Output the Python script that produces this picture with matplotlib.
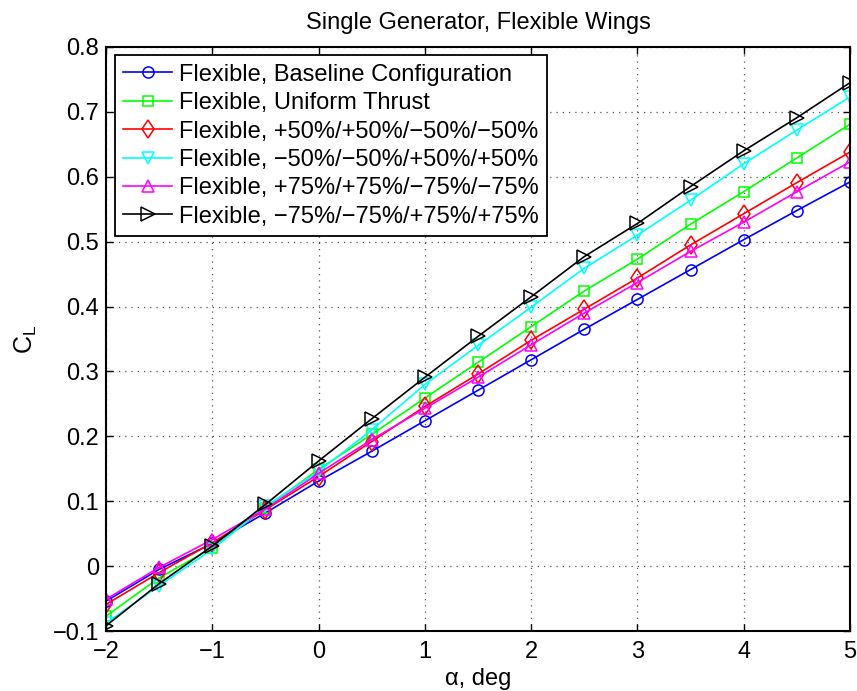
import numpy as np
import matplotlib
matplotlib.use("Agg")
import matplotlib.pyplot as plt

plt.rcParams['font.family'] = ['Liberation Sans', 'DejaVu Sans']
plt.rcParams['mathtext.fontset'] = 'custom'
plt.rcParams['mathtext.rm'] = 'Liberation Sans'

alpha = [-2, -1.5, -1, -0.5, 0, 0.5, 1, 1.5, 2, 2.5, 3, 3.5, 4, 4.5, 5]

cl_baseline = [-0.054, -0.005, 0.035, 0.082, 0.131, 0.177, 0.224, 0.271, 0.318,
               0.365, 0.411, 0.457, 0.503, 0.548, 0.592]
cl_uniform = [-0.077, -0.018, 0.028, 0.090, 0.149, 0.203, 0.259, 0.314, 0.369,
              0.424, 0.473, 0.527, 0.577, 0.629, 0.681]
cl_p50 = [-0.059, -0.010, 0.036, 0.087, 0.138, 0.192, 0.246, 0.296, 0.348,
          0.396, 0.444, 0.495, 0.543, 0.591, 0.638]
cl_m50 = [-0.088, -0.030, 0.026, 0.092, 0.146, 0.210, 0.280, 0.340, 0.399,
          0.459, 0.510, 0.564, 0.620, 0.672, 0.723]
cl_p75 = [-0.051, -0.002, 0.041, 0.088, 0.143, 0.195, 0.243, 0.291, 0.341,
          0.390, 0.437, 0.485, 0.530, 0.577, 0.623]
cl_m75 = [-0.092, -0.027, 0.031, 0.095, 0.162, 0.227, 0.291, 0.354, 0.415,
          0.477, 0.528, 0.585, 0.640, 0.691, 0.745]

labels = ['Flexible, Baseline Configuration',
          'Flexible, Uniform Thrust',
          'Flexible, +50%/+50%/\u221250%/\u221250%',
          'Flexible, \u221250%/\u221250%/+50%/+50%',
          'Flexible, +75%/+75%/\u221275%/\u221275%',
          'Flexible, \u221275%/\u221275%/+75%/+75%']

series = [cl_baseline, cl_uniform, cl_p50, cl_m50, cl_p75, cl_m75]
colors = ['#0000ff', '#00ff00', '#ff0000', '#00ffff', '#ff00ff', '#000000']
markers = ['o', 's', 'd', 'v', '^', '>']
msizes = [8, 7, 9.5, 9, 9, 9.5]

fig = plt.figure(figsize=(8.57, 6.91), dpi=100)
ax = fig.add_axes([0.1237, 0.0868, 0.8681, 0.8452])

for y, c, m, ms, lab in zip(series, colors, markers, msizes, labels):
    ax.plot(alpha, y, color=c, marker=m, markersize=ms, markerfacecolor='none',
            markeredgecolor=c, markeredgewidth=1.1, linewidth=1.2, label=lab)

ax.set_xlim(-2, 5)
ax.set_ylim(-0.1, 0.8)
ax.set_xticks(np.arange(-2, 6, 1))
ax.set_yticks(np.arange(-0.1, 0.81, 0.1))
ax.set_yticklabels(['\u22120.1', '0', '0.1', '0.2', '0.3', '0.4', '0.5', '0.6', '0.7', '0.8'])
ax.set_xticklabels(['\u22122', '\u22121', '0', '1', '2', '3', '4', '5'])
ax.tick_params(direction='in', length=5, width=1, labelsize=17, top=True, right=True, pad=5)
ax.tick_params(axis='x', pad=7)
for s in ax.spines.values():
    s.set_linewidth(1.5)
ax.grid(True, linestyle=(0, (1, 4)), color='#555555', linewidth=0.9)

ax.set_title('Single Generator, Flexible Wings', fontsize=17, pad=13)
ax.set_xlabel('\u03b1, deg', fontsize=17, labelpad=4)
ax.set_ylabel(r'C$_\mathregular{L}$', fontsize=18, labelpad=10)

leg = ax.legend(loc='upper left', fontsize=17, handlelength=2.1, borderaxespad=0.36,
                labelspacing=0.27, handletextpad=0.3, borderpad=0.35, fancybox=False,
                framealpha=1, edgecolor='black')
leg.get_frame().set_linewidth(1.3)

fig.savefig('out.png', dpi=100)
